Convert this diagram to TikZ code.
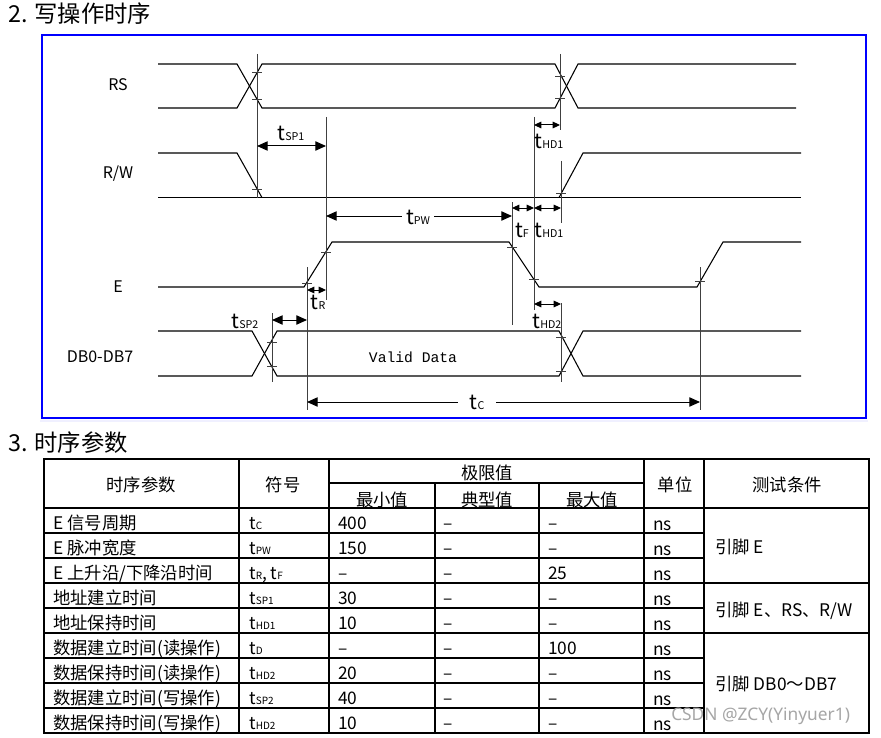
\documentclass[tikz,border=0pt]{standalone}
\usepackage{fontspec}
\setmainfont{Noto Sans CJK SC}
\newfontfamily\monof{Liberation Mono}
\newfontfamily\wmf{Noto Sans}
\usetikzlibrary{arrows.meta}
\newcommand{\tsym}[1]{t{\fontsize{8}{9}\selectfont #1}}
\newcommand{\tcel}[1]{t{\fontsize{7.5}{8}\selectfont #1}}
\begin{document}
\begin{tikzpicture}[x=0.75pt,y=-0.75pt,
 sig/.style={line width=0.8pt},
 vln/.style={black!75,line width=0.7pt},
 tk/.style={black!75,line width=0.7pt},
 big/.style={line width=0.75pt,{Triangle[length=8pt,width=7pt]}-{Triangle[length=8pt,width=7pt]}},
 sml/.style={line width=0.75pt,{Triangle[length=5.5pt,width=5pt]}-{Triangle[length=5.5pt,width=5pt]}},
 lab/.style={font=\fontsize{12}{13}\selectfont, inner sep=0pt},
 tl/.style={font=\fontsize{15.5}{16}\selectfont, inner sep=1pt},
 ttl/.style={font=\fontsize{17.5}{19}\selectfont, anchor=base west, inner sep=0pt},
 cell/.style={anchor=base west, inner sep=0pt, font=\fontsize{13}{15}\selectfont},
 hcell/.style={anchor=base, inner sep=0pt, font=\fontsize{13}{15}\selectfont},
 tline/.style={line width=1pt}
]
\useasboundingbox (0,0) rectangle (881,738);
\fill[white] (0,0) rectangle (881,738);

% ---------- titles ----------
\node[ttl] (title1) at (8,23) {2. 写操作时序};
\node[ttl] (title2) at (8,451) {3. 时序参数};

% ---------- frame ----------
\fill[blue!6] (40,419.5) rectangle (868,421.5);
\draw[blue, line width=2.2pt] (42,35) rectangle (866,418);

% ---------- signal labels ----------
\node[lab] (lrs) at (118,85) {RS};
\node[lab] (lrw) at (118,174) {R/W};
\node[lab] (le) at (118,287) {E};
\node[lab] (ldb) at (100,357) {DB0-DB7};
\node[font=\monof\fontsize{11}{12}\selectfont, inner sep=0pt] (vd) at (413,357) {Valid Data};

% ---------- waveforms ----------
% RS
\draw[sig] (158,64) -- (237,64) -- (262,108) -- (555,108) -- (578,64) -- (796,64);
\draw[sig] (158,108) -- (237,108) -- (262,64) -- (555,64) -- (578,108) -- (796,108);
% R/W
\draw[sig] (158,153) -- (237,153) -- (262,197.6);
\draw[sig] (158,197.6) -- (801,197.6);
\draw[sig] (559,197.6) -- (583,153) -- (801,153);
% E
\draw[sig] (158,287) -- (304,287) -- (332,242) -- (509,242) -- (539,287) -- (697,287) -- (723,242) -- (801,242);
% DB0-DB7
\draw[sig] (158,331) -- (252,331) -- (277,376) -- (559,376) -- (583,331) -- (801,331);
\draw[sig] (158,376) -- (252,376) -- (277,331) -- (559,331) -- (583,376) -- (801,376);

% ---------- vertical reference lines ----------
\draw[vln] (257,54) -- (257,198);
\draw[vln] (560,54) -- (560,130);
\draw[vln] (326,117) -- (326,300);
\draw[vln] (534,117) -- (534,310);
\draw[vln] (561,161) -- (561,223);
\draw[vln] (512,202) -- (512,325);
\draw[vln] (307,267) -- (307,410);
\draw[vln] (700,267) -- (700,410);
\draw[vln] (561,303) -- (561,382);
\draw[vln] (272,313) -- (272,382);

% ---------- ticks ----------
\foreach \x/\y in {257/72,257/99,257/189,560/76,560/98,561/193,326/252,307/283,
                   512/247,534/279,700/281,272/342,272/366,561/337,561/371}
  \draw[tk] ({\x-5},\y) -- ({\x+5},\y);

% ---------- timing arrows ----------
\coordinate (sp1a) at (257,146); \coordinate (sp1b) at (326,146);
\draw[big] (sp1a) -- (sp1b);
\node[tl] (tsp1) at (291,133) {\tsym{SP1}};

\coordinate (hd1a) at (534,125); \coordinate (hd1b) at (560,125);
\draw[sml] (hd1a) -- (hd1b);
\node[tl] (thd1) at (549,141) {\tsym{HD1}};

\coordinate (pwa) at (326,216); \coordinate (pwb) at (512,216);
\draw[big] (pwa) -- (pwb);
\node[tl, fill=white, inner xsep=3pt] (tpw) at (418,217) {\tsym{PW}};

\coordinate (tfa) at (512,208); \coordinate (tfb) at (534,208);
\draw[sml] (tfa) -- (tfb);
\node[tl] (ttf) at (522,230) {\tsym{F}};
\coordinate (hd1c) at (534,208); \coordinate (hd1d) at (561,208);
\draw[sml] (hd1c) -- (hd1d);
\node[tl] (thd1b) at (549,230) {\tsym{HD1}};

\coordinate (tra) at (307,290); \coordinate (trb) at (326,290);
\draw[sml] (tra) -- (trb);
\node[tl] (ttr) at (318,302) {\tsym{R}};

\coordinate (sp2a) at (272,320); \coordinate (sp2b) at (307,320);
\draw[big] (sp2a) -- (sp2b);
\node[tl] (tsp2) at (245,321) {\tsym{SP2}};

\coordinate (hd2a) at (534,304); \coordinate (hd2b) at (561,304);
\draw[sml] (hd2a) -- (hd2b);
\node[tl] (thd2) at (547,321) {\tsym{HD2}};

\coordinate (tca) at (307,402); \coordinate (tcb) at (700,402);
\draw[big] (tca) -- (tcb);
\node[tl, fill=white, inner xsep=9pt] (ttc) at (477,402) {\tsym{C}};

% ---------- table ----------
\draw[tline] (44,459) rectangle (869,733);
\draw[tline] (329,483) -- (644,483);
\draw[tline] (44,508) -- (869,508);
\foreach \y in {533,558,608,658,683,708} \draw[tline] (44,\y) -- (704,\y);
\draw[tline] (44,583) -- (869,583);
\draw[tline] (44,633) -- (869,633);
\draw[tline] (239,459) -- (239,733);
\draw[tline] (329,459) -- (329,733);
\draw[tline] (435,483) -- (435,733);
\draw[tline] (539,483) -- (539,733);
\draw[tline] (644,459) -- (644,733);
\draw[tline] (704,459) -- (704,733);

% header
\node[hcell] (h1) at (141,491) {时序参数};
\node[hcell] (h2) at (283,491) {符号};
\node[hcell] (h3) at (487,479) {极限值};
\node[hcell] (h4) at (382,506) {最小值};
\node[hcell] (h5) at (487,506) {典型值};
\node[hcell] (h6) at (592,506) {最大值};
\node[hcell] (h7) at (675,491) {单位};
\node[hcell] (h8) at (787,491) {测试条件};

% rows
\foreach \i/\nm/\sy/\mn/\ty/\mx in {
 1/{E 信号周期}/{\tcel{C}}/400/–/–,
 2/{E 脉冲宽度}/{\tcel{PW}}/150/–/–,
 3/{E 上升沿/下降沿时间}/{\tcel{R}, \tcel{F}}/–/–/25,
 4/{地址建立时间}/{\tcel{SP1}}/30/–/–,
 5/{地址保持时间}/{\tcel{HD1}}/10/–/–,
 6/{数据建立时间(读操作)}/{\tcel{D}}/–/–/100,
 7/{数据保持时间(读操作)}/{\tcel{HD2}}/20/–/–,
 8/{数据建立时间(写操作)}/{\tcel{SP2}}/40/–/–,
 9/{数据保持时间(写操作)}/{\tcel{HD2}}/10/–/–}
{
 \pgfmathsetmacro\yy{508+25*(\i-1)+21}
 \node[cell] (r\i a) at (53,\yy) {\nm};
 \node[cell] (r\i b) at (249,\yy) {\sy};
 \node[cell] (r\i c) at (338,\yy) {\mn};
 \node[cell] (r\i d) at (443,\yy) {\ty};
 \node[cell] (r\i e) at (548,\yy) {\mx};
 \node[cell] (r\i f) at (653,{\yy+1}) {ns};
}
\node[cell] (c1) at (715,553) {引脚 E};
\node[cell] (c2) at (715,616) {引脚 E、RS、R/W};
\node[cell] (c3) at (715,690) {引脚 DB0～DB7};

% watermark
\node[font=\wmf\fontsize{13}{15}\selectfont, text=black!35, anchor=west, inner sep=0pt] (wm) at (671,716) {CSDN @ZCY(Yinyuer1)};
\end{tikzpicture}
\end{document}
